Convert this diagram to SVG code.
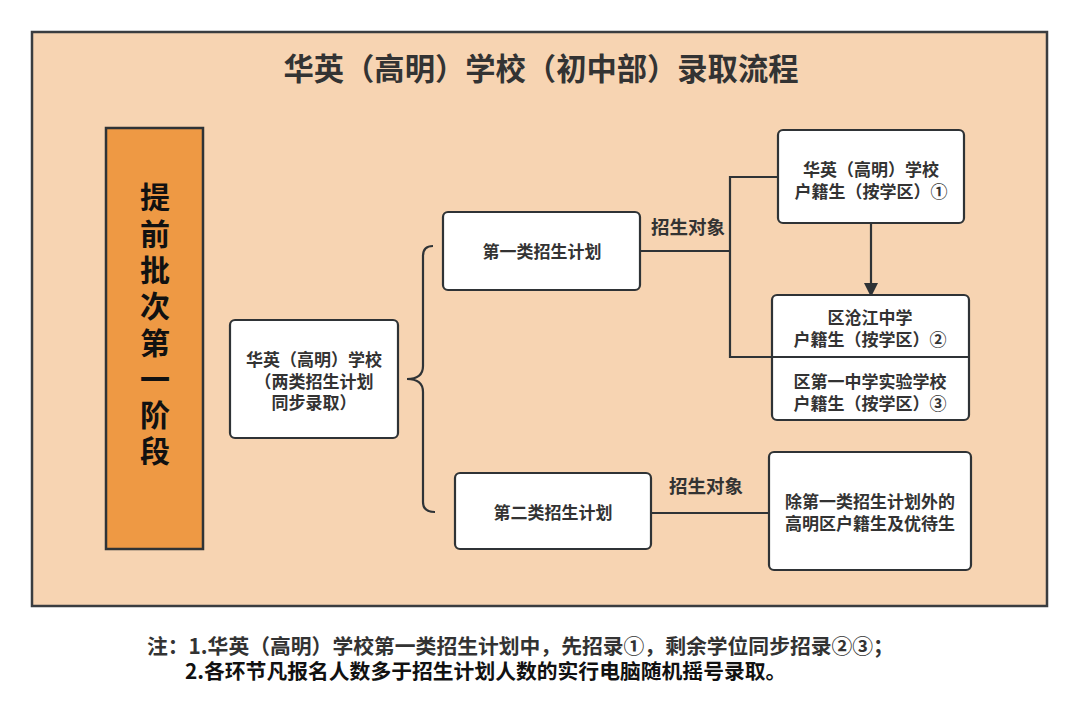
<svg xmlns="http://www.w3.org/2000/svg" width="1080" height="719" viewBox="0 0 1080 719">
<defs>
<style>
.t{font-family:"Noto Sans CJK SC","Microsoft YaHei",sans-serif;font-weight:700;}
.node{fill:#ffffff;stroke:#2f3336;stroke-width:2.2;}
.nt{font-size:17px;fill:#333333;text-anchor:middle;}
.lbl{font-size:18.5px;fill:#333333;text-anchor:middle;}
.conn{fill:none;stroke:#2f3336;stroke-width:2.2;}
.vt{font-size:30px;fill:#111111;writing-mode:vertical-rl;letter-spacing:6.3px;}
</style>
<marker id="arr" markerWidth="14" markerHeight="14" refX="12" refY="7" orient="auto" markerUnits="userSpaceOnUse">
<path d="M0,0 L14,7 L0,14 Z" fill="#2f3336"/>
</marker>
</defs>
<rect x="0" y="0" width="1080" height="719" fill="#ffffff"/>
<g id="frame">
<rect x="32" y="32" width="1015" height="574" fill="#F7D4B2" stroke="#3a3d40" stroke-width="2.5"/>
<text class="t" x="541" y="80" font-size="30.3" fill="#333333" text-anchor="middle">华英（高明）学校（初中部）录取流程</text>
</g>
<g id="stage">
<rect x="106" y="128" width="97" height="421" fill="#EE9944" stroke="#2f3336" stroke-width="2.5"/>
<text class="t vt" x="155" y="182">提前批次第一阶段</text>
</g>
<g id="connectors">
<path class="conn" d="M433,246 Q423,246 423,256 L423,366 Q423,379 407,379 Q423,379 423,392 L423,502 Q423,512 435,512"/>
<path class="conn" d="M640,251 L730,251"/>
<path class="conn" d="M778,177 L730,177 L730,357 L772,357"/>
<path class="conn" d="M871,223 L871,295" marker-end="url(#arr)"/>
<path class="conn" d="M651,513 L769,513"/>
<text class="t lbl" x="688" y="234">招生对象</text>
<text class="t lbl" x="706" y="493">招生对象</text>
</g>
<g id="node-school">
<rect class="node" x="230" y="320" width="168" height="118" rx="5"/>
<text class="t nt" x="314" y="366"><tspan x="314">华英（高明）学校</tspan><tspan x="314" dy="22">（两类招生计划</tspan><tspan x="314" dy="21">同步录取）</tspan></text>
</g>
<g id="node-plan1">
<rect class="node" x="443" y="212" width="197" height="78" rx="5"/>
<text class="t nt" x="542" y="258">第一类招生计划</text>
</g>
<g id="node-plan2">
<rect class="node" x="455" y="473" width="196" height="76" rx="5"/>
<text class="t nt" x="553" y="519">第二类招生计划</text>
</g>
<g id="node-c1">
<rect class="node" x="778" y="130" width="186" height="93" rx="5"/>
<text class="t nt" x="871" y="176"><tspan x="871">华英（高明）学校</tspan><tspan x="871" dy="22">户籍生（按学区）①</tspan></text>
</g>
<g id="node-c23">
<rect class="node" x="772" y="295" width="197" height="125" rx="5"/>
<line x1="772" y1="357" x2="969" y2="357" stroke="#2f3336" stroke-width="2.2"/>
<text class="t nt" x="870" y="324"><tspan x="870">区沧江中学</tspan><tspan x="870" dy="22">户籍生（按学区）②</tspan></text>
<text class="t nt" x="870" y="388"><tspan x="870">区第一中学实验学校</tspan><tspan x="870" dy="22">户籍生（按学区）③</tspan></text>
</g>
<g id="node-other">
<rect class="node" x="769" y="452" width="202" height="118" rx="5"/>
<text class="t nt" x="870" y="508"><tspan x="870">除第一类招生计划外的</tspan><tspan x="870" dy="22">高明区户籍生及优待生</tspan></text>
</g>
<g id="notes">
<text class="t" x="147" y="654" font-size="20.8"><tspan x="147" fill="#333333">注：1.华英（高明）学校第一类招生计划中，先招录①，剩余学位同步招录②③；</tspan><tspan x="185" dy="25" fill="#111111">2.各环节凡报名人数多于招生计划人数的实行电脑随机摇号录取。</tspan></text>
</g>
</svg>
